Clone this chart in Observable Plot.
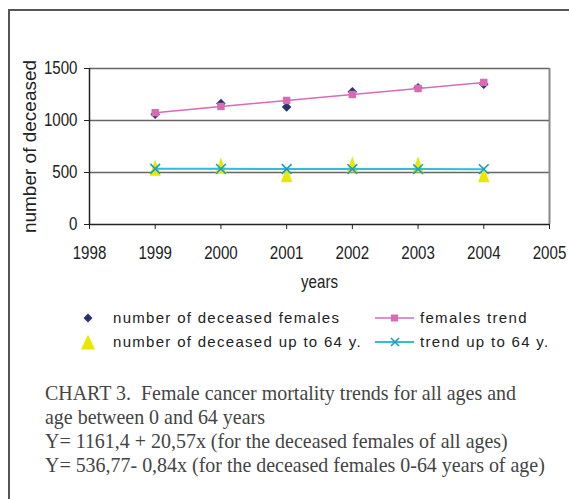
<!DOCTYPE html>
<html>
<head>
<meta charset="utf-8">
<script src="https://cdn.jsdelivr.net/npm/d3@7"></script>
<script src="https://cdn.jsdelivr.net/npm/@observablehq/plot@0.6"></script>
<style>
  html, body { margin: 0; padding: 0; background: #fff; }
  #wrap { position: relative; width: 569px; height: 499px; overflow: hidden; }
  #frame { position: absolute; left: 8px; top: 9px; width: 700px; height: 700px;
           border-top: 2px solid #555; border-left: 2px solid #555; }
  #chart { position: absolute; left: 0; top: 0; }
  .leg { position: absolute; font-family: "Liberation Sans", Arial, sans-serif; font-size: 15px;
         letter-spacing: 1.3px; color: #222; line-height: 18px; white-space: nowrap; }
  #caption { position: absolute; left: 45px; top: 381px; font-family: "Liberation Serif", "Times New Roman", serif;
             color: #444; font-size: 21px; line-height: 24px; white-space: pre;
             transform: scaleX(0.95); transform-origin: 0 0; }
</style>
</head>
<body>
<div id="wrap">
  <div id="frame"></div>
  <div id="chart"></div>
  <div id="legend"></div>
  <div id="caption"></div>
</div>
<script>
// ---- data ----
const years = [1999, 2000, 2001, 2002, 2003, 2004];
const deceasedFemales = [1060, 1164, 1129, 1276, 1315, 1348];
const femalesTrend = [1075, 1135, 1193, 1250, 1308, 1366];
const deceasedUpTo64 = [548, 569, 485, 579, 579, 485];
const trendUpTo64 = [536, 535, 534, 533, 533, 532];
const xTicks = [1998, 1999, 2000, 2001, 2002, 2003, 2004, 2005];
const yTicks = [0, 500, 1000, 1500];
const gridValues = [500, 1000, 1500];
const xLabel = "years";
const yLabel = "number of deceased";
const seriesNames = ["number of deceased females", "females trend", "number of deceased up to 64 y.", "trend up to 64 y."];
const captionLines = [
  "CHART 3.  Female cancer mortality trends for all ages and",
  "age between 0 and 64 years",
  "Y= 1161,4 + 20,57x (for the deceased females of all ages)",
  "Y= 536,77- 0,84x (for the deceased females 0-64 years of age)"
];

const colors = { diamond: "#27336f", pink: "#d96bb5", yellow: "#e8e800", cyan: "#33bcd6", cyanMark: "#1a9dc8" };

const rows = years.map((y, i) => ({
  year: y, females: deceasedFemales[i], ftrend: femalesTrend[i], young: deceasedUpTo64[i], ytrend: trendUpTo64[i]
}));

// tall triangle symbol (Excel-like)
const tallTriangle = {
  draw(context, size) {
    const r = Math.sqrt(size / Math.PI);
    const hw = r, hh = r * 1.45;
    context.moveTo(0, -hh);
    context.lineTo(hw, hh);
    context.lineTo(-hw, hh);
    context.closePath();
  }
};

const tickFont = "'Liberation Sans', Arial, sans-serif";
const fmt = d => String(d);

const plot = Plot.plot({
  width: 569,
  height: 300,
  marginLeft: 89,
  marginRight: 20,
  marginTop: 68,
  marginBottom: 76,
  style: { background: "transparent", color: "#222", overflow: "visible" },
  x: { domain: [1998, 2005], ticks: xTicks, tickFormat: fmt },
  y: { domain: [0, 1500], ticks: yTicks, tickFormat: fmt },
  marks: [
    Plot.ruleY(gridValues, { stroke: "#666", strokeWidth: 1.6 }),
    Plot.ruleX([2005], { stroke: "#888", strokeWidth: 2 }),
    Plot.ruleY([0], { stroke: "#222", strokeWidth: 1.5 }),
    Plot.ruleX([1998], { stroke: "#222", strokeWidth: 1.5 }),
    Plot.axisX({ ticks: xTicks, tickFormat: fmt, tickSize: 5, tickPadding: 17, label: null,
                 fontSize: 18, fontFamily: tickFont, stroke: "#222", fill: "#222" }),
    Plot.axisY({ ticks: yTicks, tickFormat: fmt, tickSize: 5, tickPadding: 7, label: null,
                 fontSize: 18, fontFamily: tickFont, stroke: "#222", fill: "#222" }),
    Plot.text([xLabel], { frameAnchor: "bottom", dy: 63, fontSize: 18, fontFamily: tickFont, fill: "#222", className: "xlabel" }),
    Plot.text([yLabel], { frameAnchor: "left", textAnchor: "middle", rotate: -90, dx: -60, fontSize: 19,
                          fontFamily: tickFont, fill: "#222" }),
    Plot.dot(rows, { x: "year", y: "young", symbol: tallTriangle, r: 5.6, fill: colors.yellow, stroke: "none" }),
    Plot.line(rows, { x: "year", y: "ytrend", stroke: colors.cyan, strokeWidth: 2 }),
    Plot.dot(rows, { x: "year", y: "ytrend", symbol: "times", r: 4.5, stroke: colors.cyanMark, strokeWidth: 1.6 }),
    Plot.dot(rows, { x: "year", y: "females", symbol: "diamond2", r: 4.3, fill: colors.diamond, stroke: "none" }),
    Plot.line(rows, { x: "year", y: "ftrend", stroke: colors.pink, strokeWidth: 1.5 }),
    Plot.dot(rows, { x: "year", y: "ftrend", symbol: "square", r: 4.2, fill: colors.pink, stroke: "none" })
  ]
});
// condense tick labels horizontally around their own anchor (narrow face in the original)
plot.querySelectorAll('g[aria-label="x-axis tick label"] text, g[aria-label="y-axis tick label"] text, g.xlabel text').forEach(t => {
  const tr = t.getAttribute("transform") || "";
  const x = +t.getAttribute("x") || 0, y = +t.getAttribute("y") || 0;
  t.setAttribute("transform", `${tr} translate(${x},${y}) scale(0.84,1) translate(${-x},${-y})`);
});
document.getElementById("chart").appendChild(plot);

// ---- legend (HTML) ----
const legend = document.getElementById("legend");
function legItem(left, top, text, svg) {
  const d = document.createElement("div");
  d.className = "leg";
  d.style.left = left + "px";
  d.style.top = (top - 9) + "px";
  d.textContent = text;
  legend.appendChild(d);
  const s = document.createElementNS("http://www.w3.org/2000/svg", "svg");
  s.setAttribute("width", 420); s.setAttribute("height", 20);
  s.style.position = "absolute"; s.style.left = "0px"; s.style.top = (top - 10) + "px";
  s.innerHTML = svg;
  legend.appendChild(s);
}
legItem(113, 318, seriesNames[0],
  `<path d="M4.5,0 L9,4.5 L4.5,9 L0,4.5Z" transform="translate(83.5,5.5)" fill="${colors.diamond}"/>`);
legItem(420, 318, seriesNames[1],
  `<line x1="375" x2="414" y1="10" y2="10" stroke="${colors.pink}" stroke-width="1.5"/><rect x="391" y="6.5" width="7" height="7" fill="${colors.pink}"/>`);
legItem(113, 341.5, seriesNames[2],
  `<path d="M88,2.5 L95,17.5 L81,17.5Z" fill="${colors.yellow}"/>`);
legItem(420, 341.5, seriesNames[3],
  `<line x1="375" x2="414" y1="10" y2="10" stroke="${colors.cyan}" stroke-width="2"/><path d="M391,6 L399,14 M399,6 L391,14" stroke="${colors.cyanMark}" stroke-width="1.6"/>`);

// ---- caption ----
const cap = document.getElementById("caption");
captionLines.forEach(t => { const d = document.createElement("div"); d.textContent = t; cap.appendChild(d); });
</script>
</body>
</html>
